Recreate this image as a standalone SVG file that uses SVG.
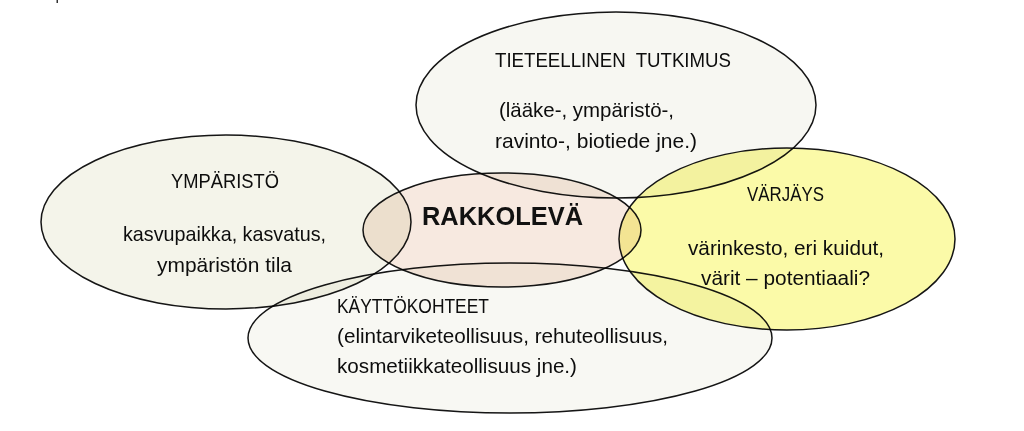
<svg xmlns="http://www.w3.org/2000/svg" width="1024" height="431" viewBox="0 0 1024 431">
<style>
.shape{stroke:#151515;stroke-width:1.5;mix-blend-mode:multiply}
.t{font-family:"Liberation Sans",Arial,sans-serif;fill:#0d0d0d;font-size:21px}
.h{font-family:"Liberation Sans",Arial,sans-serif;fill:#0d0d0d;font-size:19.5px}
.c{text-anchor:middle}
.big{font-family:"Liberation Sans",Arial,sans-serif;fill:#111;font-size:26.5px;font-weight:bold;text-anchor:middle}
</style>
<rect x="0" y="0" width="1024" height="431" fill="#ffffff"/>
<rect x="56.5" y="0" width="1.5" height="3" fill="#333"/>
<g id="connectors"/>
<g id="ymparisto">
<ellipse class="shape" cx="226" cy="222" rx="185" ry="87" fill="#f4f4ea"/>
<text class="h c" x="225" y="188" textLength="108" lengthAdjust="spacingAndGlyphs">YMPÄRISTÖ</text>
<text class="t c" x="224.5" y="241" textLength="203" lengthAdjust="spacingAndGlyphs">kasvupaikka, kasvatus,</text>
<text class="t c" x="224.5" y="272" textLength="135" lengthAdjust="spacingAndGlyphs">ympäristön tila</text>
</g>
<g id="tutkimus">
<ellipse class="shape" cx="616" cy="105" rx="200" ry="93" fill="#f7f7f2"/>
<text class="h c" x="613" y="67" textLength="236" lengthAdjust="spacingAndGlyphs" xml:space="preserve">TIETEELLINEN  TUTKIMUS</text>
<text class="t c" x="586.5" y="117" textLength="175" lengthAdjust="spacingAndGlyphs">(lääke-, ympäristö-,</text>
<text class="t c" x="596" y="148" textLength="202" lengthAdjust="spacingAndGlyphs">ravinto-, biotiede jne.)</text>
</g>
<g id="kayttokohteet">
<ellipse class="shape" cx="510" cy="338" rx="262" ry="75" fill="#f8f8f3"/>
<text class="h" x="337" y="313" textLength="152" lengthAdjust="spacingAndGlyphs">KÄYTTÖKOHTEET</text>
<text class="t" x="337" y="343" textLength="331" lengthAdjust="spacingAndGlyphs">(elintarviketeollisuus, rehuteollisuus,</text>
<text class="t" x="337" y="373" textLength="240" lengthAdjust="spacingAndGlyphs">kosmetiikkateollisuus jne.)</text>
</g>
<g id="rakkoleva">
<ellipse class="shape" cx="502" cy="230" rx="139" ry="57" fill="#f7e9e0"/>
<text class="big" x="502.5" y="225" textLength="161" lengthAdjust="spacingAndGlyphs">RAKKOLEVÄ</text>
</g>
<g id="varjays">
<ellipse class="shape" cx="787" cy="239" rx="168" ry="91" fill="#fbfaa8"/>
<text class="h c" x="785.5" y="201" textLength="77" lengthAdjust="spacingAndGlyphs">VÄRJÄYS</text>
<text class="t c" x="786" y="255" textLength="196" lengthAdjust="spacingAndGlyphs">värinkesto, eri kuidut,</text>
<text class="t c" x="785.5" y="285" textLength="169" lengthAdjust="spacingAndGlyphs">värit – potentiaali?</text>
</g>
</svg>
